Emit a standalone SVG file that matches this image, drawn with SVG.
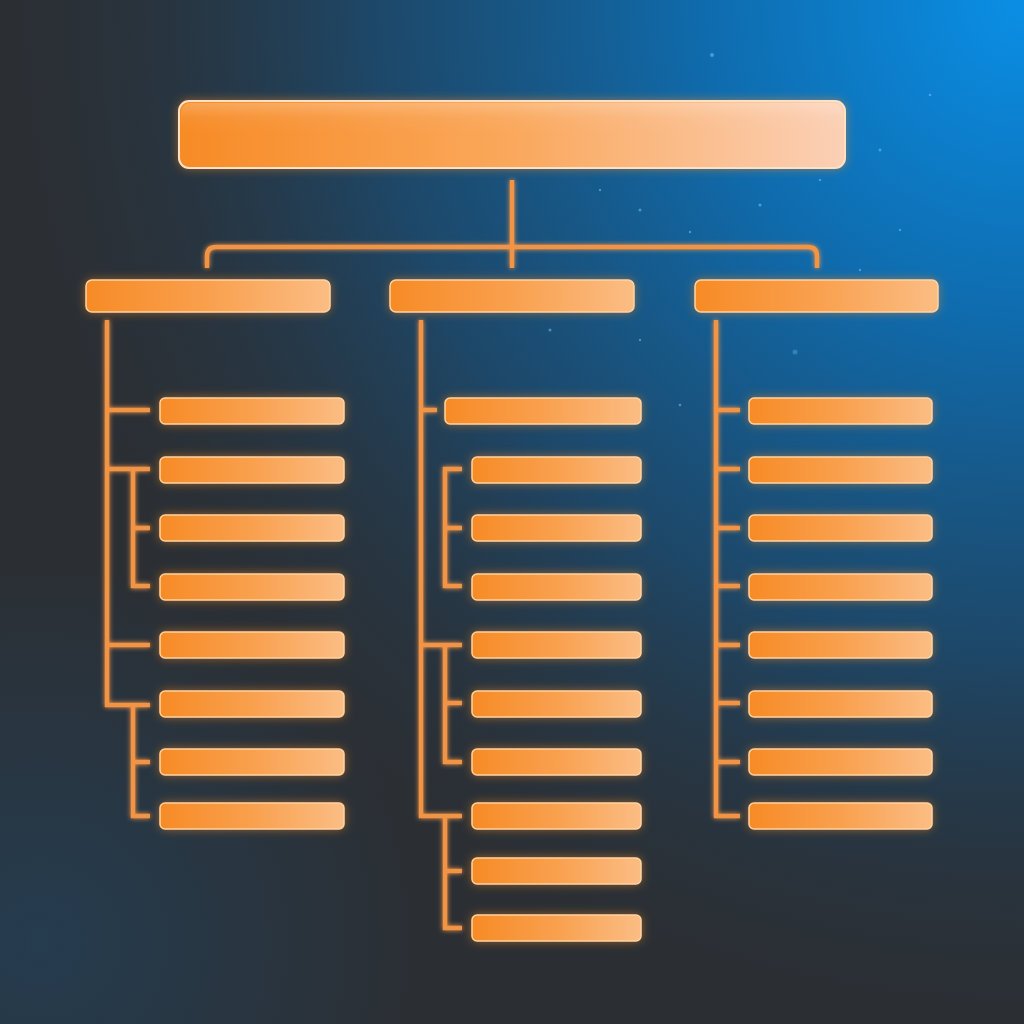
<svg xmlns="http://www.w3.org/2000/svg" width="1024" height="1024" viewBox="0 0 1024 1024">
<defs>
  <radialGradient id="bgBlue" cx="1024" cy="0" r="1050" gradientUnits="userSpaceOnUse">
    <stop offset="0" stop-color="#0a8fe6"/>
    <stop offset="0.3" stop-color="#0f6cae"/>
    <stop offset="0.62" stop-color="#1b4c72" stop-opacity="0.85"/>
    <stop offset="1" stop-color="#2b2f34" stop-opacity="0"/>
  </radialGradient>
  <radialGradient id="bgBL" cx="40" cy="940" r="380" gradientUnits="userSpaceOnUse">
    <stop offset="0" stop-color="#1e4c70" stop-opacity="0.45"/>
    <stop offset="1" stop-color="#1e4c70" stop-opacity="0"/>
  </radialGradient>
  <linearGradient id="boxFill" x1="0" y1="0" x2="1" y2="0">
    <stop offset="0" stop-color="#f78b26"/>
    <stop offset="0.5" stop-color="#f9a04e"/>
    <stop offset="1" stop-color="#fbbd84"/>
  </linearGradient>
  <linearGradient id="topFill" x1="0" y1="0" x2="1" y2="0">
    <stop offset="0" stop-color="#f78b26"/>
    <stop offset="0.5" stop-color="#faa85c"/>
    <stop offset="1" stop-color="#fbd0b6"/>
  </linearGradient>
  <linearGradient id="sheen" x1="0" y1="0" x2="0" y2="1">
    <stop offset="0" stop-color="#ffffff" stop-opacity="0.22"/>
    <stop offset="0.5" stop-color="#ffffff" stop-opacity="0.04"/>
    <stop offset="1" stop-color="#ffffff" stop-opacity="0"/>
  </linearGradient>
  <filter id="glow" x="-20%" y="-80%" width="140%" height="260%">
    <feGaussianBlur in="SourceAlpha" stdDeviation="5" result="b"/>
    <feFlood flood-color="#ff8a20" flood-opacity="0.5"/>
    <feComposite in2="b" operator="in" result="g"/>
    <feMerge><feMergeNode in="g"/><feMergeNode in="SourceGraphic"/></feMerge>
  </filter>
  <filter id="lineGlow" x="-50%" y="-10%" width="200%" height="120%">
    <feGaussianBlur in="SourceGraphic" stdDeviation="2.5" result="b"/>
    <feMerge><feMergeNode in="b"/><feMergeNode in="SourceGraphic"/></feMerge>
  </filter>
  <style>
    .box{fill:url(#boxFill);stroke:#ffd3a0;stroke-width:1.5;filter:url(#glow)}
    .top{fill:url(#topFill);stroke:#ffe0c0;stroke-width:2;filter:url(#glow)}
    .sh{fill:url(#sheen);stroke:none}
    .ln{fill:none;stroke:#f29444;stroke-width:4.5;stroke-linecap:butt;stroke-linejoin:miter}
    .dot{fill:#6fc6ff}
  </style>
</defs>

<rect width="1024" height="1024" fill="#2b2f34"/>
<rect width="1024" height="1024" fill="url(#bgBL)"/>
<rect width="1024" height="1024" fill="url(#bgBlue)"/>

<g id="particles" opacity="0.55">
  <circle class="dot" cx="712" cy="55" r="2"/>
  <circle class="dot" cx="640" cy="210" r="1.5"/>
  <circle class="dot" cx="690" cy="232" r="1.2"/>
  <circle class="dot" cx="760" cy="205" r="1.6"/>
  <circle class="dot" cx="820" cy="180" r="1.2"/>
  <circle class="dot" cx="880" cy="150" r="1.4"/>
  <circle class="dot" cx="900" cy="230" r="1.2"/>
  <circle class="dot" cx="600" cy="190" r="1.2"/>
  <circle class="dot" cx="550" cy="330" r="1.5"/>
  <circle class="dot" cx="640" cy="340" r="1.2"/>
  <circle class="dot" cx="795" cy="352" r="2.5" opacity="0.6"/>
  <circle class="dot" cx="680" cy="405" r="1.3"/>
  <circle class="dot" cx="860" cy="270" r="1.2"/>
  <circle class="dot" cx="930" cy="95" r="1.3"/>
  <circle class="dot" cx="740" cy="300" r="1.2"/>
</g>

<g id="connectors" filter="url(#lineGlow)">
  <path class="ln" d="M512 180 V268"/>
  <path class="ln" d="M207 268 V256 Q207 247 216 247 H808 Q817 247 817 256 V268"/>
  <path class="ln" d="M107 320 V705 H150"/>
  <path class="ln" d="M107 410 H150 M107 469 H150 M107 645 H150"/>
  <path class="ln" d="M133 469 V586 H150 M133 528 H150"/>
  <path class="ln" d="M133 705 V816 H150 M133 762 H150"/>
  <path class="ln" d="M421 320 V816 H462"/>
  <path class="ln" d="M421 410 H437"/>
  <path class="ln" d="M462 469 H445 V586 H462 M445 528 H462"/>
  <path class="ln" d="M421 645 H462 M445 645 V762 H462 M445 703 H462"/>
  <path class="ln" d="M445 816 V928 H462 M445 871 H462"/>
  <path class="ln" d="M716 320 V816 H740"/>
  <path class="ln" d="M716 410 H740 M716 469 H740 M716 528 H740 M716 586 H740 M716 645 H740 M716 703 H740 M716 762 H740"/>
</g>

<g id="root"><rect class="top" x="179" y="101" width="666" height="67" rx="10"/><rect class="sh" x="181" y="103" width="662" height="30" rx="9"/></g>

<g id="l2-left"><rect class="box" x="86" y="280" width="244" height="32" rx="6"/></g>
<g id="l2-mid"><rect class="box" x="390" y="280" width="244" height="32" rx="6"/></g>
<g id="l2-right"><rect class="box" x="695" y="280" width="243" height="32" rx="6"/></g>

<g id="left-1"><rect class="box" x="160" y="398" width="184" height="26" rx="5"/></g>
<g id="left-2"><rect class="box" x="160" y="457" width="184" height="26" rx="5"/></g>
<g id="left-3"><rect class="box" x="160" y="515" width="184" height="26" rx="5"/></g>
<g id="left-4"><rect class="box" x="160" y="574" width="184" height="26" rx="5"/></g>
<g id="left-5"><rect class="box" x="160" y="632" width="184" height="26" rx="5"/></g>
<g id="left-6"><rect class="box" x="160" y="691" width="184" height="26" rx="5"/></g>
<g id="left-7"><rect class="box" x="160" y="749" width="184" height="26" rx="5"/></g>
<g id="left-8"><rect class="box" x="160" y="803" width="184" height="26" rx="5"/></g>

<g id="mid-1"><rect class="box" x="445" y="398" width="196" height="26" rx="5"/></g>
<g id="mid-2"><rect class="box" x="472" y="457" width="169" height="26" rx="5"/></g>
<g id="mid-3"><rect class="box" x="472" y="515" width="169" height="26" rx="5"/></g>
<g id="mid-4"><rect class="box" x="472" y="574" width="169" height="26" rx="5"/></g>
<g id="mid-5"><rect class="box" x="472" y="632" width="169" height="26" rx="5"/></g>
<g id="mid-6"><rect class="box" x="472" y="691" width="169" height="26" rx="5"/></g>
<g id="mid-7"><rect class="box" x="472" y="749" width="169" height="26" rx="5"/></g>
<g id="mid-8"><rect class="box" x="472" y="803" width="169" height="26" rx="5"/></g>
<g id="mid-9"><rect class="box" x="472" y="858" width="169" height="26" rx="5"/></g>
<g id="mid-10"><rect class="box" x="472" y="915" width="169" height="26" rx="5"/></g>

<g id="right-1"><rect class="box" x="749" y="398" width="183" height="26" rx="5"/></g>
<g id="right-2"><rect class="box" x="749" y="457" width="183" height="26" rx="5"/></g>
<g id="right-3"><rect class="box" x="749" y="515" width="183" height="26" rx="5"/></g>
<g id="right-4"><rect class="box" x="749" y="574" width="183" height="26" rx="5"/></g>
<g id="right-5"><rect class="box" x="749" y="632" width="183" height="26" rx="5"/></g>
<g id="right-6"><rect class="box" x="749" y="691" width="183" height="26" rx="5"/></g>
<g id="right-7"><rect class="box" x="749" y="749" width="183" height="26" rx="5"/></g>
<g id="right-8"><rect class="box" x="749" y="803" width="183" height="26" rx="5"/></g>
</svg>
